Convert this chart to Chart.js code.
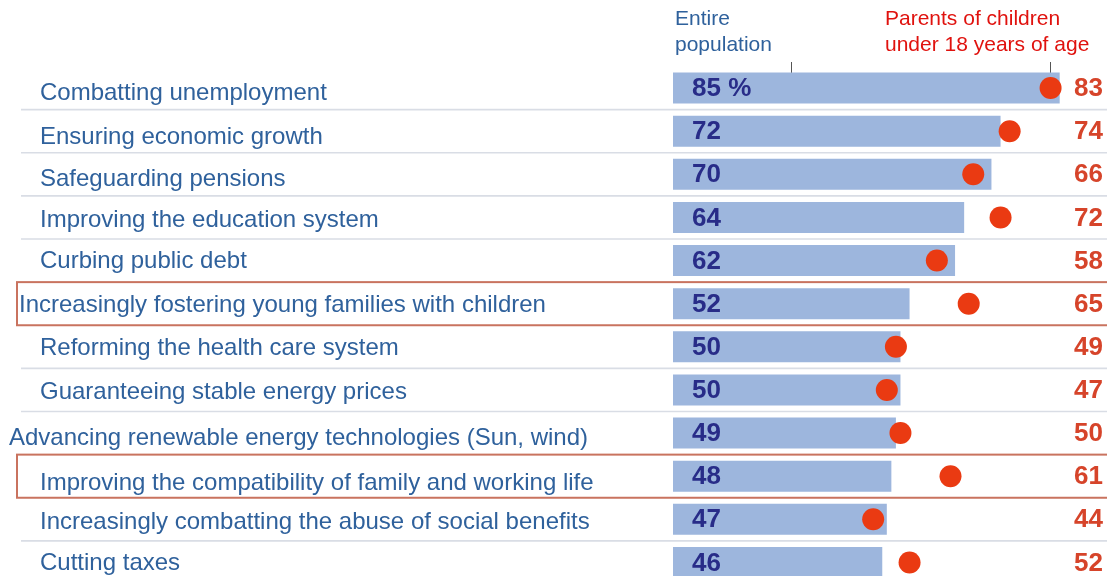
<!DOCTYPE html>
<html>
<head>
<meta charset="utf-8">
<script src="https://cdn.jsdelivr.net/npm/chart.js@4"></script>
<style>
html,body{margin:0;padding:0;background:#fff;overflow:hidden;width:1107px;height:576px;}
#c{display:block;}
</style>
</head>
<body>
<canvas id="c" width="1118" height="595" style="width:1118px;height:595px"></canvas>
<script>
const categories = [
  "Combatting unemployment",
  "Ensuring economic growth",
  "Safeguarding pensions",
  "Improving the education system",
  "Curbing public debt",
  "Increasingly fostering young families with children",
  "Reforming the health care system",
  "Guaranteeing stable energy prices",
  "Advancing renewable energy technologies (Sun, wind)",
  "Improving the compatibility of family and working life",
  "Increasingly combatting the abuse of social benefits",
  "Cutting taxes"
];
const entirePopulation = [85, 72, 70, 64, 62, 52, 50, 50, 49, 48, 47, 46];
const parents = [83, 74, 66, 72, 58, 65, 49, 47, 50, 61, 44, 52];
const highlighted = [5, 9];
const headerPopulation = ["Entire", "population"];
const headerParents = ["Parents of children", "under 18 years of age"];

// layout (not data)
const labelX = [40,40,40,40,40,19,40,40,9,40,40,40];
const labelDy = [5,6,5,3,1,2,2,2,5,7,3,1];
const VIEW_W = 1107;

const BLUE_TXT = "#2f619c";
const NAVY = "#282c88";
const RED_TXT = "#d6442a";
const DOT = "#ea3a12";
const BAR = "#9db6dd";

const overlay = {
  id: "overlay",
  beforeDatasetsDraw(chart) {
    const ctx = chart.ctx, area = chart.chartArea;
    const n = categories.length;
    const step = (area.bottom - area.top) / n;
    ctx.save();
    ctx.strokeStyle = "#d9dde5";
    ctx.lineWidth = 1.6;
    for (let k = 0; k < n - 1; k++) {
      const yy = area.top + step * (k + 1);
      if (highlighted.includes(k) || highlighted.includes(k + 1)) continue;
      ctx.beginPath(); ctx.moveTo(21, yy); ctx.lineTo(VIEW_W, yy); ctx.stroke();
    }
    ctx.textBaseline = "middle";
    ctx.textAlign = "left";
    ctx.font = "21px 'Liberation Sans', Arial, sans-serif";
    ctx.fillStyle = BLUE_TXT;
    headerPopulation.forEach((t, i) => ctx.fillText(t, 675, 19 + i * 26));
    ctx.fillStyle = "#e0120e";
    headerParents.forEach((t, i) => ctx.fillText(t, 885, 19 + i * 26));
    ctx.strokeStyle = "#555";
    ctx.lineWidth = 1;
    ctx.beginPath(); ctx.moveTo(791.5, 62); ctx.lineTo(791.5, 95); ctx.stroke();
    const px = Math.round(chart.scales.x.getPixelForValue(parents[0])) - 0.5;
    ctx.beginPath(); ctx.moveTo(px, 62); ctx.lineTo(px, 85); ctx.stroke();
    ctx.restore();
  },
  afterDatasetsDraw(chart) {
    const ctx = chart.ctx, ys = chart.scales.y, area = chart.chartArea;
    const n = categories.length;
    const step = (area.bottom - area.top) / n;
    ctx.save();
    ctx.textBaseline = "middle";
    ctx.font = "24px 'Liberation Sans', Arial, sans-serif";
    ctx.fillStyle = BLUE_TXT;
    ctx.textAlign = "left";
    categories.forEach((c, i) => {
      ctx.fillText(c, labelX[i], ys.getPixelForValue(i) + labelDy[i]);
    });
    ctx.font = "bold 26px 'Liberation Sans', Arial, sans-serif";
    ctx.fillStyle = NAVY;
    entirePopulation.forEach((v, i) => {
      ctx.fillText(i === 0 ? v + " %" : String(v), 692, ys.getPixelForValue(i) + 1);
    });
    ctx.fillStyle = RED_TXT;
    ctx.textAlign = "right";
    parents.forEach((v, i) => {
      ctx.fillText(String(v), 1103, ys.getPixelForValue(i) + 1);
    });
    ctx.strokeStyle = "#c9735f";
    ctx.lineWidth = 2;
    highlighted.forEach(i => {
      const top = area.top + step * i, bot = top + step;
      ctx.strokeRect(17, top, VIEW_W + 20, bot - top);
    });
    ctx.restore();
  }
};

new Chart(document.getElementById("c"), {
  data: {
    labels: categories,
    datasets: [
      {
        type: "line",
        label: "Parents of children under 18 years of age",
        data: parents.map((v, i) => ({ x: v, y: categories[i] })),
        showLine: false,
        pointRadius: 11,
        pointHoverRadius: 11,
        pointBackgroundColor: DOT,
        pointBorderWidth: 0,
        xAxisID: "x", yAxisID: "y",
        order: 0
      },
      {
        type: "bar",
        label: "Entire population",
        data: entirePopulation,
        backgroundColor: BAR,
        borderWidth: 0,
        barPercentage: 0.72,
        categoryPercentage: 1,
        xAxisID: "x", yAxisID: "y",
        order: 1
      }
    ]
  },
  options: {
    indexAxis: "y",
    responsive: false,
    devicePixelRatio: 1,
    animation: false,
    layout: { padding: { left: 673, top: 66.5, right: 0, bottom: 0 } },
    plugins: { legend: { display: false }, tooltip: { enabled: false }, title: { display: false } },
    scales: {
      x: { type: "linear", min: 0, max: 95.4, display: false },
      y: { type: "category", labels: categories, offset: true, display: false }
    }
  },
  plugins: [overlay]
});
</script>
</body>
</html>
